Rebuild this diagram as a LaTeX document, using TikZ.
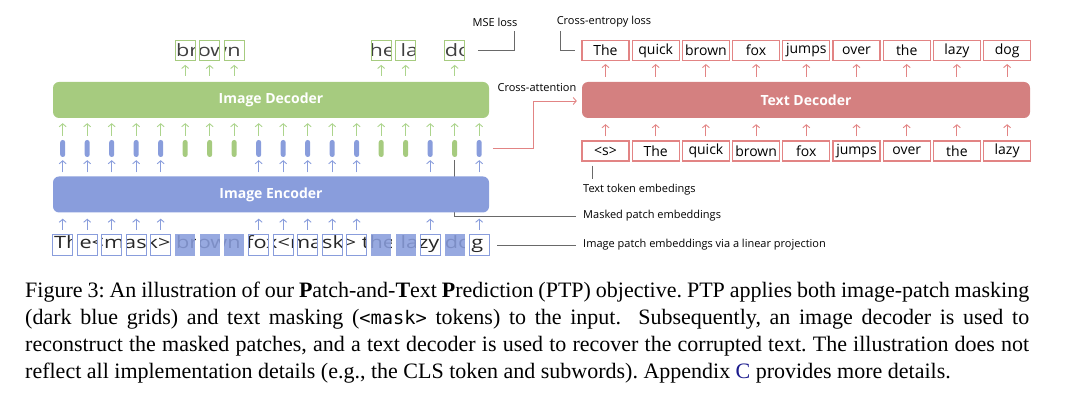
\documentclass[tikz,border=0pt]{standalone}
\usepackage{graphicx}
\usepackage{fontspec}
\setmainfont{Liberation Serif}
\setsansfont{Open Sans}
\setmonofont[Scale=0.85]{DejaVu Sans Mono}
\usetikzlibrary{arrows.meta}

\definecolor{decgreen}{RGB}{166,203,127}
\definecolor{arrgreen}{RGB}{172,212,140}
\definecolor{encblue}{RGB}{137,157,220}
\definecolor{txtred}{RGB}{212,128,128}
\definecolor{tokred}{RGB}{226,132,132}
\definecolor{leadgray}{RGB}{105,105,105}
\definecolor{linkblue}{RGB}{25,25,140}

% the sentence that is cut into image patches
\newcommand{\patchline}{\resizebox{429pt}{\height}{\fontsize{17}{17}\sffamily The<mask> brown fox<mask> the lazy dog}}

\begin{document}
\begin{tikzpicture}[x=1pt, y=-1pt,
    block/.style={rounded corners=6pt, minimum height=36pt, inner sep=0pt, text=white,
                  font=\sffamily\bfseries\fontsize{14}{14}\selectfont},
    pill/.style={rounded corners=2.4pt, minimum width=5pt, minimum height=17pt, inner sep=0pt},
    patch/.style={minimum width=20pt, minimum height=21pt, inner sep=0pt},
    tok/.style={draw=tokred, line width=1.1pt, minimum width=47pt, minimum height=20pt, inner sep=0pt,
                font=\sffamily\fontsize{14}{14}\selectfont},
    upar/.style={line width=0.9pt, -{Straight Barb[length=3pt,width=7pt]}},
    leader/.style={leadgray, line width=0.9pt},
    lbl/.style={font=\sffamily\fontsize{11}{11}\selectfont, inner sep=0pt}]

    \useasboundingbox (0,0) rectangle (1080,403);

    % --- 1. patch embeddings between encoder and decoder ---
    \foreach \i in {1,...,5,9,10,11,12,13,16,18}
        \node[pill, fill=encblue] (e\i) at ({38.2+24.5*\i},148.5) {};
    \foreach \i in {6,7,8,14,15,17}
        \node[pill, fill=decgreen] (e\i) at ({38.2+24.5*\i},148.5) {};

    % --- 2. image patches (input) ---
    \foreach \i in {1,...,18}
        \node[patch] (p\i) at ({38.2+24.5*\i},245) {};
    \begin{scope}
        \clip foreach \i in {1,...,18} {(p\i.south west) rectangle (p\i.north east)};
        \node[anchor=base west, inner sep=0pt, text=black!85] (intext) at (54,249) {\patchline};
    \end{scope}
    \foreach \i in {6,7,8,14,15,17}
        \fill[encblue, opacity=0.88] (p\i.south west) rectangle (p\i.north east);
    \foreach \i in {1,...,5,9,10,11,12,13,16,18}
        \draw[encblue, line width=1pt] (p\i.south west) rectangle (p\i.north east);

    % --- 3. reconstructed patches (output) ---
    \foreach \i in {6,7,8,14,15,17}
        \node[patch, minimum height=20pt] (o\i) at ({38.2+24.5*\i},50.7) {};
    \begin{scope}
        \clip foreach \i in {6,7,8,14,15,17} {(o\i.south west) rectangle (o\i.north east)};
        \node[anchor=base west, inner sep=0pt, text=black!75] (outtext) at (54,56.5) {\patchline};
    \end{scope}
    \foreach \i in {6,7,8,14,15,17}
        \draw[decgreen, line width=1pt] (o\i.south west) rectangle (o\i.north east);

    % --- 4. leader labels on the right ---
    \node[lbl, anchor=west] (tte) at (583,190) {Text token embedings};
    \node[lbl, anchor=west] (mpe) at (583,216) {Masked patch embeddings};
    \node[lbl, anchor=west] (ipe) at (583,245) {Image patch embeddings via a linear projection};
    \draw[leader, shorten <=3pt, shorten >=7pt] (e17.south) |- (mpe.west); % runs behind the encoder
    \draw[leader, shorten <=8pt, shorten >=7pt] (p18.east) -- (ipe.west);

    % --- 5. image encoder / decoder ---
    \node[block, fill=encblue, minimum width=436pt] (enc) at (271,194.5) {Image Encoder};
    \node[block, fill=decgreen, minimum width=436pt] (dec) at (271,100) {Image Decoder};
    \foreach \i in {1,...,5,9,10,11,12,13,16,18} {
        \draw[upar, encblue, shorten <=4.5pt, shorten >=6pt] (p\i.north) -- (p\i.north |- enc.south);
        \draw[upar, encblue, shorten <=4pt, shorten >=3pt] (enc.north -| e\i) -- (e\i.south);
    }
    \foreach \i in {1,...,18}
        \draw[upar, arrgreen, shorten <=4pt, shorten >=5pt] (e\i.north) -- (e\i.north |- dec.south);
    \foreach \i in {6,7,8,14,15,17}
        \draw[upar, arrgreen, shorten <=6pt, shorten >=4pt] (dec.north -| o\i) -- (o\i.south);

    % --- 6. text decoder with its tokens ---
    \node[block, fill=txtred, minimum width=448pt] (tdec) at (806,100) {Text Decoder};
    \foreach [count=\i] \w in {The,quick,brown,fox,jumps,over,the,lazy,dog} {
        \node[tok] (t\i) at ({555.3+50.2*\i},50.5) {\w};
        \draw[upar, tokred, shorten <=5pt, shorten >=3pt] (tdec.north -| t\i) -- (t\i.south);
    }
    \foreach [count=\i] \w in {<s>,The,quick,brown,fox,jumps,over,the,lazy} {
        \node[tok] (b\i) at ({555.3+50.2*\i},151) {\w};
        \draw[upar, tokred, shorten <=4pt, shorten >=6pt] (b\i.north) -- (b\i.north |- tdec.south);
    }
    \draw[leader, shorten <=4pt, shorten >=5pt] ([xshift=-13.5pt]b1.south) -- ([xshift=-13.5pt]b1.south |- tte.north);

    % --- 7. cross-attention ---
    \coordinate (xbend) at (533,101);
    \node[lbl] (xatt) at (537,88) {Cross-attention};
    \draw[tokred, line width=0.9pt, shorten <=11pt] (e18.east) -| (xbend);
    \draw[tokred, line width=0.9pt, -{Straight Barb[length=3pt,width=7pt]}, shorten >=5pt] (xbend) -- (tdec.west |- xbend);

    % --- 8. losses ---
    \node[lbl] (mse) at (495,22) {MSE loss};
    \node[lbl] (ce) at (604,22) {Cross-entropy loss};
    \coordinate (mseknee) at (514,31);
    \coordinate (ceknee) at (560,31);
    \draw[leader, shorten <=13pt] (o17.east) -| (mseknee);
    \draw[leader, shorten >=6pt] (ceknee) |- (t1.west);

    % --- 9. caption ---
    \node[anchor=north west, text width=1004pt, align=justify, inner sep=0pt,
          font=\fontsize{22}{27}\selectfont\frenchspacing] (caption) at (25,282)
    {Figure 3: An illustration of our \textbf{P}atch-and-\textbf{T}ext \textbf{P}rediction (PTP) objective. PTP applies both image-patch masking\linebreak
     (dark blue grids) and text masking (\texttt{<mask>} tokens) to the input.\ \ Subsequently, an image decoder is used to\linebreak
     reconstruct the masked patches, and a text decoder is used to recover the corrupted text. The illustration does not\linebreak
     reflect all implementation details (e.g., the CLS token and subwords). Appendix \textcolor{linkblue}{C} provides more details.};

\end{tikzpicture}
\end{document}
